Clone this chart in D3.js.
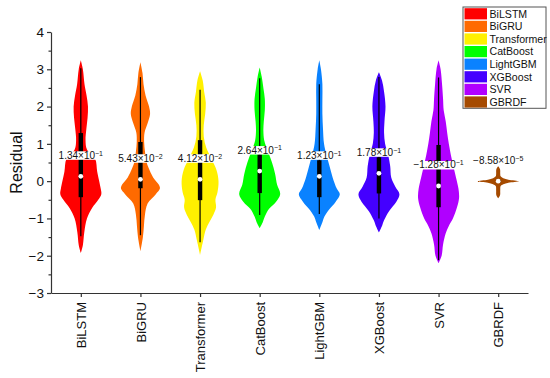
<!DOCTYPE html>
<html>
<head>
  <meta charset="utf-8">
  <title>Residual violins</title>
  <script src="https://cdnjs.cloudflare.com/ajax/libs/d3/7.8.5/d3.min.js"></script>
  <style>
    html, body { margin: 0; padding: 0; background: #fff; }
    svg { display: block; font-family: "Liberation Sans", Arial, sans-serif; }
  </style>
</head>
<body>
  <svg id="chart" width="550" height="378"></svg>
  <script>

    // models and colours
    const models = ['BiLSTM', 'BiGRU', 'Transformer', 'CatBoost', 'LightGBM', 'XGBoost', 'SVR', 'GBRDF']
    const colors = ['#ff0000', '#ff6a00', '#fff000', '#00ff00', '#0a82ff', '#4400ff', '#b000ff', '#a54a00']

    // mean labels (mantissa x 10^exp)
    const meanMant = ['1.34', '5.43', '4.12', '2.64', '1.23', '1.78', '\u22121.28', '\u22128.58']
    const meanExp = ['\u22121', '\u22122', '\u22122', '\u22121', '\u22121', '\u22121', '\u22121', '\u22125']

    // box statistics
    const q3 = [1.29, 1.05, 1.10, 0.72, 0.56, 0.64, 0.97, 0.03]
    const q1 = [-0.43, -0.19, -0.51, -0.32, -0.43, -0.33, -0.70, -0.03]
    const median = [0.13, 0.05, 0.05, 0.27, 0.13, 0.21, -0.13, 0]
    const whiskerHi = [3.03, 2.79, 2.45, 2.76, 2.6, 2.79, 2.78, 0.05]
    const whiskerLo = [-1.48, -1.45, -1.64, -0.91, -0.88, -1.0, -2.12, -0.05]

    // violin outlines: [residual, relative density]
    const densBiLSTM = [[3.24, 0], [3.0, .1], [2.6, .18], [2.3, .28], [2.0, .35], [1.7, .33], [1.4, .27], [1.1, .23], [0.85, .3], [0.6, .7], [0.25, .8], [-0.2, .97], [-0.35, 1], [-0.5, .85], [-0.72, .55], [-1.0, .3], [-1.37, .17], [-1.72, .1], [-1.93, 0]]
    const densBiGRU = [[3.19, 0], [2.9, .1], [2.6, .15], [2.3, .25], [2.0, .42], [1.8, .47], [1.55, .35], [1.3, .2], [1.05, .18], [0.8, .22], [0.55, .28], [0.35, .4], [0.1, .62], [-0.1, .9], [-0.2, .95], [-0.35, .75], [-0.6, .35], [-0.9, .22], [-1.2, .17], [-1.5, .12], [-1.88, 0]]
    const densTransformer = [[2.95, 0], [2.7, .13], [2.4, .2], [2.1, .28], [1.8, .25], [1.5, .18], [1.2, .18], [0.9, .3], [0.6, .55], [0.3, .8], [0.0, .9], [-0.3, .85], [-0.5, .75], [-0.7, .78], [-0.9, .65], [-1.1, .45], [-1.3, .28], [-1.6, .15], [-1.98, 0]]
    const densCatBoost = [[3.05, 0], [2.8, .1], [2.5, .18], [2.2, .25], [1.9, .25], [1.6, .2], [1.35, .18], [1.1, .22], [0.8, .4], [0.5, .6], [0.2, .75], [-0.1, .85], [-0.35, 1], [-0.55, .8], [-0.75, .45], [-0.95, .25], [-1.1, .15], [-1.26, 0]]
    const densLightGBM = [[3.24, 0], [3.0, .08], [2.6, .15], [2.2, .15], [1.8, .15], [1.4, .18], [1.0, .23], [0.7, .35], [0.4, .5], [0.1, .65], [-0.2, .85], [-0.35, 1], [-0.55, .8], [-0.75, .5], [-0.95, .25], [-1.1, .15], [-1.31, 0]]
    const densXGBoost = [[2.92, 0], [2.7, .15], [2.4, .25], [2.0, .32], [1.6, .27], [1.3, .25], [1.0, .3], [0.7, .45], [0.4, .55], [0.1, .6], [-0.15, .8], [-0.35, 1], [-0.55, .85], [-0.8, .5], [-1.05, .25], [-1.2, .15], [-1.37, 0]]
    const densSVR = [[3.24, 0], [3.0, .1], [2.6, .17], [2.2, .22], [1.9, .25], [1.6, .35], [1.3, .42], [1.0, .5], [0.7, .6], [0.4, .72], [0.1, .85], [-0.2, .97], [-0.45, 1], [-0.7, .9], [-1.0, .7], [-1.2, .5], [-1.4, .35], [-1.7, .22], [-2.0, .15], [-2.2, 0]]
    const densGBRDF = [[0.40, 0], [0.32, .09], [0.2, .1], [0.13, .12], [0.08, .25], [0.04, .5], [0.0, 1], [-0.04, .5], [-0.08, .25], [-0.13, .12], [-0.25, .1], [-0.38, .09], [-0.46, 0]]
    const densities = [densBiLSTM, densBiGRU, densTransformer, densCatBoost, densLightGBM, densXGBoost, densSVR, densGBRDF]

    const yTicks = [-3, -2, -1, 0, 1, 2, 3, 4]
    const yMinor = [-2.5, -1.5, -0.5, 0.5, 1.5, 2.5, 3.5]

    const svg = d3.select('#chart')
    const axisColor = '#333'
    const font = '"Liberation Sans", Arial, sans-serif'

    let x = d3.scalePoint().domain(models).range([51, 528]).padding(0.5)
    let y = d3.scaleLinear().domain([-3, 4]).range([293, 32])
    let w = d3.scaleLinear().domain([0, 1]).range([0, 20.5])

    // violins
    const area = d3.area()
      .curve(d3.curveCatmullRom.alpha(0.5))
      .y(d => y(d[0]))

    const g = svg.append('g')

    models.forEach((m, i) => {
      let cx = x(m)
      area.x0(d => cx - w(d[1])).x1(d => cx + w(d[1]))
      g.append('path')
        .attr('d', area(densities[i]))
        .attr('fill', colors[i])

      // whisker
      g.append('line')
        .attr('x1', cx).attr('x2', cx)
        .attr('y1', y(whiskerHi[i])).attr('y2', y(whiskerLo[i]))
        .attr('stroke', '#000').attr('stroke-width', 1.2)

      // box
      g.append('rect')
        .attr('x', cx - 2.2).attr('width', 4.4)
        .attr('y', y(q3[i])).attr('height', y(q1[i]) - y(q3[i]))
        .attr('fill', '#000')

      g.append('circle')
        .attr('cx', cx).attr('cy', y(median[i])).attr('r', 2.4)
        .attr('fill', '#fff')
    })

    // mean labels with white background
    models.forEach((m, i) => {
      let lg = svg.append('g')
        .attr('transform', `translate(${x(m)},${y(median[i]) - 21})`)
      let bg = lg.append('rect').attr('fill', '#fff')
      let t = lg.append('text')
        .attr('text-anchor', 'middle')
        .attr('dy', '0.35em')
        .attr('font-size', 10)
        .attr('fill', '#111')
      t.append('tspan').text(meanMant[i] + '\u00d710')
      t.append('tspan').attr('dy', '-0.45em').attr('font-size', 7).text(meanExp[i])
      let bb = t.node().getBBox()
      bg.attr('x', bb.x - 1).attr('y', -4).attr('width', bb.width + 2).attr('height', 8.5)
    })

    // axes
    const yAxis = svg.append('g')
      .attr('transform', 'translate(51,0)')
      .call(d3.axisLeft(y).tickValues(yTicks).tickFormat(d3.format('d')).tickSize(4).tickSizeOuter(0).tickPadding(3))
    yAxis.selectAll('text').attr('font-size', 13.5).attr('fill', '#111').attr('font-family', font)

    svg.append('g')
      .attr('transform', 'translate(51,0)')
      .call(d3.axisLeft(y).tickValues(yMinor).tickSize(2.5).tickFormat(''))
      .call(s => s.select('.domain').remove())

    const xAxis = svg.append('g')
      .attr('transform', 'translate(0,293)')
      .call(d3.axisBottom(x).tickSize(4).tickSizeOuter(0))
    xAxis.selectAll('text')
      .attr('font-size', 13).attr('fill', '#111')
      .attr('font-family', font)
      .attr('text-anchor', 'end')
      .attr('transform', 'rotate(-90)')
      .attr('x', -9).attr('y', 0).attr('dy', '0.35em')

    svg.selectAll('.domain, .tick line').attr('stroke', axisColor).attr('stroke-width', 1.2)

    svg.append('text')
      .attr('transform', `translate(22,${(y(4) + y(-3)) / 2}) rotate(-90)`)
      .attr('text-anchor', 'middle')
      .attr('font-size', 16)
      .attr('fill', '#111')
      .text('Residual')

    // legend
    const legend = svg.append('g').attr('transform', 'translate(463,7)')
    const rowH = 12.6
    legend.append('rect')
      .attr('width', 83).attr('height', rowH * models.length + 0.5)
      .attr('fill', '#fff').attr('stroke', '#555').attr('stroke-width', 1)
    models.forEach((m, i) => {
      legend.append('rect')
        .attr('x', 1.5).attr('y', i * rowH + 1.2)
        .attr('width', 22.5).attr('height', rowH - 1.4)
        .attr('fill', colors[i])
      legend.append('text')
        .attr('x', 26.5).attr('y', i * rowH + rowH / 2 + 0.5)
        .attr('dy', '0.35em')
        .attr('font-size', 10.6)
        .attr('fill', '#111')
        .text(m)
    })

  </script>
</body>
</html>
